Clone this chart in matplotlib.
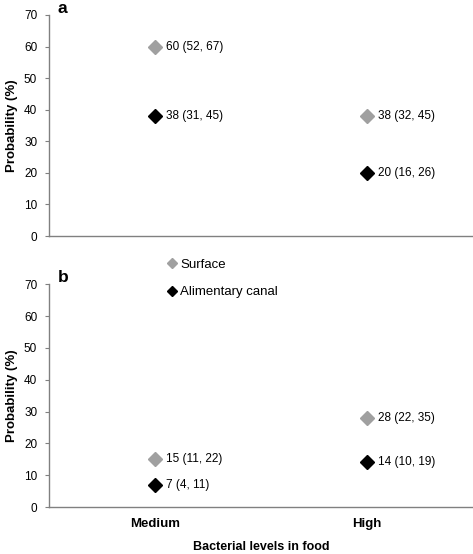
import matplotlib.pyplot as plt

plt.rcParams['font.family'] = ['Liberation Sans', 'DejaVu Sans']

categories = ['Medium', 'High']
surface_a = [60, 38]
canal_a = [38, 20]
surface_a_lbl = ['60 (52, 67)', '38 (32, 45)']
canal_a_lbl = ['38 (31, 45)', '20 (16, 26)']
surface_b = [15, 28]
canal_b = [7, 14]
surface_b_lbl = ['15 (11, 22)', '28 (22, 35)']
canal_b_lbl = ['7 (4, 11)', '14 (10, 19)']

grey = '#a0a0a0'
axis_col = '#808080'
xpos = [0.5, 1.5]

fig = plt.figure(figsize=(4.73, 5.54), dpi=100)
ax_a = fig.add_axes([0.1036, 0.574, 0.8964, 0.399])
ax_b = fig.add_axes([0.1036, 0.0848, 0.8964, 0.4022])


def style(ax, letter):
    ax.set_xlim(0, 2)
    ax.set_ylim(0, 70)
    ax.set_yticks(range(0, 71, 10))
    ax.spines['top'].set_visible(False)
    ax.spines['right'].set_visible(False)
    for s in ('left', 'bottom'):
        ax.spines[s].set_color(axis_col)
        ax.spines[s].set_linewidth(1.0)
    ax.tick_params(axis='y', labelsize=8.5, length=3, color=axis_col, pad=5.5)
    ax.tick_params(axis='x', length=0)
    ax.set_ylabel('Probability (%)', fontsize=9.5, fontweight='bold', labelpad=4)
    ax.text(0.021, 1.03, letter, transform=ax.transAxes, fontsize=12.5,
            fontweight='bold', va='center', ha='left')


def draw(ax, surf, can, surf_lbl, can_lbl):
    ax.plot(xpos, surf, 'D', color=grey, markersize=7.5, linestyle='none',
            label='Surface', clip_on=False)
    ax.plot(xpos, can, 'D', color='black', markersize=7.5, linestyle='none',
            label='Alimentary canal', clip_on=False)
    for x, y, t in zip(xpos, surf, surf_lbl):
        ax.annotate(t, (x, y), xytext=(8, 0), textcoords='offset points',
                    fontsize=8.5, va='center')
    for x, y, t in zip(xpos, can, can_lbl):
        ax.annotate(t, (x, y), xytext=(8, 0), textcoords='offset points',
                    fontsize=8.5, va='center')


style(ax_a, 'a')
draw(ax_a, surface_a, canal_a, surface_a_lbl, canal_a_lbl)
ax_a.set_xticks([])

style(ax_b, 'b')
draw(ax_b, surface_b, canal_b, surface_b_lbl, canal_b_lbl)
ax_b.set_xticks(xpos)
ax_b.set_xticklabels(categories, fontsize=9.5, fontweight='bold')
ax_b.tick_params(axis='x', pad=8)
ax_b.set_xlabel('Bacterial levels in food', fontsize=9, fontweight='bold', labelpad=8)

leg = ax_b.legend(loc='upper left', bbox_to_anchor=(0.256, 1.145), frameon=False,
                  fontsize=9.5, handletextpad=0.0, markerscale=0.72,
                  labelspacing=1.15, handlelength=1.2, borderpad=0)

fig.savefig('out.png', dpi=100)
